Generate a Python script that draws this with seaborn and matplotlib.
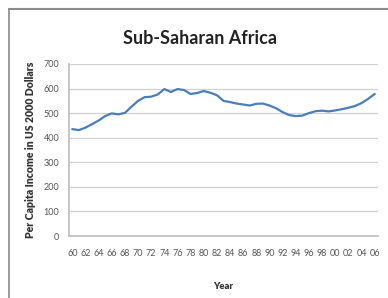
import matplotlib
matplotlib.use("Agg")
import matplotlib.pyplot as plt
import seaborn as sns
import pandas as pd
from matplotlib.lines import Line2D

years = list(range(1960, 2007))
income = [435, 431, 441, 455, 470, 488, 499, 495, 501, 526,
          550, 565, 567, 576, 598, 586, 598, 594, 578, 582,
          590, 583, 573, 550, 545, 539, 535, 531, 538, 539,
          531, 520, 504, 492, 488, 490, 500, 508, 510, 507,
          511, 516, 522, 529, 541, 558, 578]
tick_labels = [f"{y % 100:02d}" for y in years[::2]]
yticks = [0, 100, 200, 300, 400, 500, 600, 700]

sns.set_theme(style="white")
plt.rcParams['font.family'] = ['Lato', 'DejaVu Sans']

df = pd.DataFrame({"idx": range(len(years)), "Year": years, "Income": income})

fig = plt.figure(figsize=(3.88, 2.98), dpi=100)
fig.patch.set_facecolor("white")
ax = fig.add_axes([69/388, 1-236/298, (378-69)/388, (236-64)/298])

sns.lineplot(data=df, x="idx", y="Income", ax=ax, color="#4A7EBB", linewidth=1.6)

ax.set_xlim(-0.5, len(years) - 0.5)
ax.set_ylim(0, 700)
ax.set_yticks(yticks)
ax.set_yticklabels([str(v) for v in yticks])
ax.set_xticks(list(range(0, len(years), 2)))
ax.set_xticklabels(tick_labels)
ax.yaxis.grid(True, color="#d0d0d0", linewidth=0.9)
ax.xaxis.grid(False)
for s in ["top", "right"]:
    ax.spines[s].set_visible(False)
ax.spines["left"].set_color("#bfbfbf")
ax.spines["bottom"].set_color("#bfbfbf")
ax.tick_params(axis="both", length=0, labelsize=6.5, labelcolor="#555555")
ax.tick_params(axis="x", pad=9)
ax.tick_params(axis="y", pad=7)

ax.set_xlabel("Year", fontsize=6.8, fontweight="heavy", color="#333333")
ax.xaxis.set_label_coords(0.5, -46/172)
ax.set_ylabel("Per Capita Income in US 2000 Dollars", fontsize=7.6, fontweight="heavy",
              color="#333333")
ax.yaxis.set_label_coords(-33/309, 0.5)

fig.text(0.515, 1-38/298, "Sub-Saharan Africa", ha="center", va="center",
         fontsize=13, fontweight="bold", color="#222222")

# frame lines of the embedded chart box
fig.add_artist(Line2D([9/388, 1], [1-9/298, 1-9/298], transform=fig.transFigure,
                      color="#8a8a8a", linewidth=1.5))
fig.add_artist(Line2D([9/388, 9/388], [0, 1-9/298], transform=fig.transFigure,
                      color="#8a8a8a", linewidth=1.2))

fig.savefig("out.png", dpi=100)
